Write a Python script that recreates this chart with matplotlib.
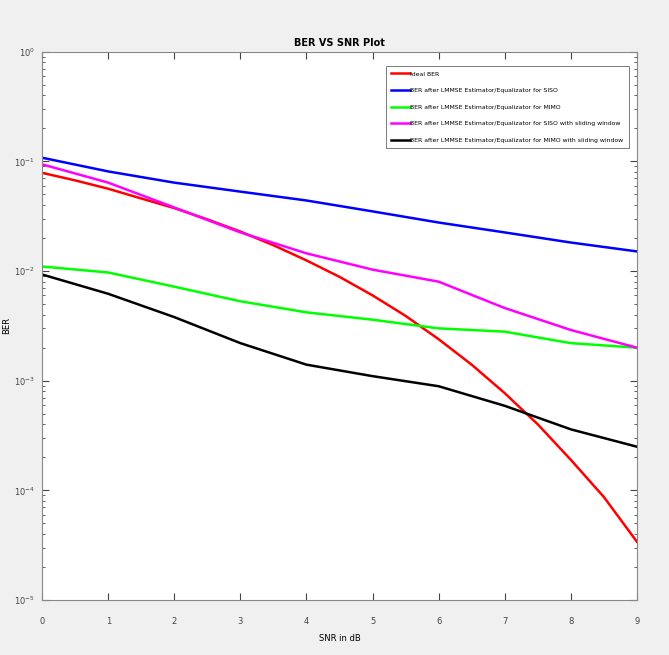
import numpy as np
import matplotlib
matplotlib.use("Agg")
import matplotlib.pyplot as plt

# ---------------------------
# Data
# ---------------------------
snr_db = [0, 1, 2, 3, 4, 5, 6, 7, 8, 9]

# ideal curve is smooth in the picture, so it is read at half-dB steps
snr_ideal = [0, 0.5, 1, 1.5, 2, 2.5, 3, 3.5, 4, 4.5, 5, 5.5, 6, 6.5, 7, 7.5, 8, 8.5, 9]
ber_ideal = [0.0786, 0.0671, 0.0563, 0.0459, 0.0375, 0.0296, 0.0229, 0.0172, 0.0125,
             0.00885, 0.0060, 0.0039, 0.00239, 0.00140, 0.00077, 0.00040, 0.00019,
             0.000087, 0.000034]
ber_siso = [0.108, 0.081, 0.064, 0.053, 0.044, 0.035, 0.0277, 0.0225, 0.0182, 0.0151]
ber_mimo = [0.0110, 0.0097, 0.0072, 0.0053, 0.0042, 0.0036, 0.0030, 0.0028, 0.0022, 0.0020]
ber_siso_sw = [0.094, 0.064, 0.038, 0.0225, 0.0145, 0.0103, 0.0080, 0.0046, 0.0029, 0.0020]
ber_mimo_sw = [0.0093, 0.0062, 0.0038, 0.0022, 0.0014, 0.0011, 0.00089, 0.00059, 0.00036, 0.00025]

labels = [
    "Ideal BER",
    "BER after LMMSE Estimator/Equalizator for SISO",
    "BER after LMMSE Estimator/Equalizator for MIMO",
    "BER after LMMSE Estimator/Equalizator for SISO with sliding window",
    "BER after LMMSE Estimator/Equalizator for MIMO with sliding window",
]
colors = ["#ff0000", "#0000ff", "#00ff00", "#ff00ff", "#000000"]

# ---------------------------
# Plot
# ---------------------------
fig = plt.figure(figsize=(6.69, 6.55), dpi=100, facecolor="#f0f0f0")
ax = fig.add_axes([0.063, 0.084, 0.889, 0.837])

xs_all = [snr_ideal, snr_db, snr_db, snr_db, snr_db]
series = [ber_ideal, ber_siso, ber_mimo, ber_siso_sw, ber_mimo_sw]
for xs, ys, lab, col in zip(xs_all, series, labels, colors):
    ax.semilogy(xs, ys, color=col, linewidth=1.8, label=lab)

ax.set_xlim(0, 9)
ax.set_ylim(1e-5, 1e0)
ax.set_xticks(snr_db)
ax.tick_params(which="both", direction="in", top=True, right=True,
               labelsize=6, colors="#444444")
ax.tick_params(which="major", length=5)
ax.tick_params(which="minor", length=2.5)
ax.tick_params(axis="x", which="major", pad=12)
ax.tick_params(axis="y", which="major", pad=5)

for sp in ax.spines.values():
    sp.set_color("#888888")

ax.set_title("BER VS SNR Plot", fontsize=7, fontweight="bold", pad=4)
ax.set_xlabel("SNR in dB", fontsize=6, labelpad=6)
ax.set_ylabel("BER", fontsize=6, labelpad=2)

leg = ax.legend(loc="upper right", bbox_to_anchor=(0.9866, 0.9745), borderaxespad=0,
                fontsize=4.4, handlelength=3.0, handletextpad=0.1,
                borderpad=0.9, labelspacing=1.85,
                fancybox=False, framealpha=1, edgecolor="#666666")
leg.get_frame().set_linewidth(0.6)

plt.savefig("out.png", dpi=100, facecolor=fig.get_facecolor())
